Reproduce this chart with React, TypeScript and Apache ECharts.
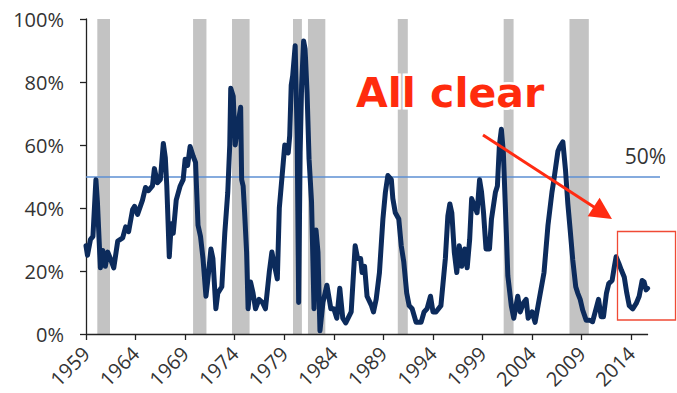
import React, { useEffect, useRef } from "react";
import * as echarts from "echarts";

// Share of indicator readings signalling recession risk, 1959–2015
const years: number[] = [
  1959.0, 1959.15, 1959.45, 1959.7, 1960.0, 1960.15, 1960.45, 1960.7, 1960.95, 1961.2,
  1961.45, 1961.8, 1962.2, 1962.7, 1963.0, 1963.3, 1963.7, 1963.9, 1964.2, 1964.7,
  1965.0, 1965.3, 1965.7, 1965.9, 1966.2, 1966.5, 1966.8, 1967.0, 1967.15, 1967.4,
  1967.6, 1967.8, 1968.1, 1968.5, 1968.8, 1969.0, 1969.25, 1969.5, 1969.8, 1970.05,
  1970.3, 1970.55, 1970.8, 1971.1, 1971.3, 1971.6, 1971.8, 1972.1, 1972.3, 1972.7,
  1973.0, 1973.3, 1973.5, 1973.6, 1973.85, 1974.05, 1974.25, 1974.6, 1974.7, 1974.85,
  1975.0, 1975.2, 1975.35, 1975.6, 1975.85, 1976.1, 1976.45, 1976.8, 1977.1, 1977.5,
  1977.75, 1978.0, 1978.3, 1978.5, 1978.9, 1979.05, 1979.4, 1979.55, 1979.7, 1979.85,
  1980.1, 1980.3, 1980.45, 1980.6, 1980.75, 1980.95, 1981.1, 1981.3, 1981.5, 1981.75,
  1982.0, 1982.2, 1982.4, 1982.6, 1982.9, 1983.3, 1983.7, 1984.0, 1984.3, 1984.6,
  1984.9, 1985.2, 1985.75, 1986.15, 1986.4, 1986.7, 1986.85, 1987.1, 1987.35, 1987.8,
  1988.0, 1988.27, 1988.6, 1988.95, 1989.2, 1989.45, 1989.8, 1989.95, 1990.2, 1990.55,
  1990.8, 1991.05, 1991.35, 1991.6, 1991.9, 1992.3, 1992.8, 1993.1, 1993.4, 1993.75,
  1994.0, 1994.3, 1994.8, 1995.25, 1995.5, 1995.7, 1995.9, 1996.15, 1996.4, 1996.65,
  1996.9, 1997.2, 1997.45, 1997.7, 1997.9, 1998.2, 1998.45, 1998.7, 1998.9, 1999.1,
  1999.35, 1999.7, 1999.9, 2000.3, 2000.5, 2000.7, 2000.9, 2001.1, 2001.4, 2001.55,
  2001.9, 2002.15, 2002.55, 2002.8, 2003.15, 2003.4, 2003.6, 2004.0, 2004.3, 2004.6,
  2005.2, 2005.6, 2006.0, 2006.2, 2006.6, 2006.8, 2007.1, 2007.37, 2007.6, 2007.84,
  2008.1, 2008.4, 2008.6, 2008.85, 2009.1, 2009.45, 2009.8, 2010.1, 2010.5, 2010.7,
  2010.96, 2011.2, 2011.5, 2011.73, 2012.07, 2012.3, 2012.47, 2012.74, 2013.0, 2013.3,
  2013.55, 2013.8, 2014.15, 2014.5, 2014.8, 2015.1, 2015.3, 2015.5, 2015.65,
];

const shares: number[] = [
  28, 25, 30, 31, 49, 42, 21, 26.5, 21.5, 26,
  24, 21, 29.5, 30.5, 34, 32.5, 39.5, 40.5, 38, 42.5,
  46.5, 45.5, 47, 52.5, 48, 49, 60.5, 56, 47, 24.5,
  35, 32, 42.5, 47, 49, 55.5, 53.5, 59.5, 56.5, 54.5,
  34.5, 31, 24, 12, 17.5, 27, 24, 8, 13, 15,
  32, 45, 60, 78, 75.5, 60, 65, 72, 49, 47,
  38.5, 26, 8, 16.5, 13, 8, 11, 10, 8, 20,
  26, 22, 17.5, 40, 54.5, 60, 57.5, 63, 79, 82,
  91.5, 63, 10, 57.5, 79, 93, 90.5, 76.5, 55.5, 42,
  8, 33, 26, 1, 10, 15.5, 8, 8, 5, 14.5,
  5, 3.5, 7, 28, 24, 24, 19.5, 21.5, 12, 9,
  7, 11, 19.5, 36.5, 45, 50.3, 49, 43, 38.5, 36.5,
  28, 23, 13, 9, 8, 3.7, 3.7, 7, 8, 12,
  7, 7, 9, 24, 37.5, 41.3, 38.5, 26, 19.5, 28,
  21.5, 27, 21, 30, 43, 40.5, 38.5, 49, 45, 38.5,
  27, 27, 36.5, 45, 47, 60, 65, 57.5, 32, 18.5,
  9, 5, 12, 7, 10, 11, 5, 7, 3.7, 9,
  19.5, 34.5, 45, 49, 58, 59.5, 61, 52, 41.5, 33,
  23.5, 15, 13, 11, 7.6, 4.4, 4.4, 3.9, 8.6, 11,
  5.5, 5.5, 13, 16, 17, 21.5, 24.5, 22.5, 20.3, 18,
  13, 9, 8, 9.7, 12, 17, 16.5, 14, 14.5,
];

// Recession periods (start, end) in decimal years
const recessionStarts: number[] = [1960.14, 1969.8, 1973.73, 1979.88, 1981.39, 1990.45, 2001.13, 2007.77];
const recessionEnds: number[] = [1961.42, 1971.15, 1975.5, 1980.78, 1983.14, 1991.46, 2002.13, 2009.72];

const tickYears: number[] = [1959, 1964, 1969, 1974, 1979, 1984, 1989, 1994, 1999, 2004, 2009, 2014];
const yTicks: number[] = [0, 20, 40, 60, 80, 100];
const threshold = 50;

const baseYear = 1959;
const lastYear = 2015.7; // end of the drawn time axis
const plotEndYear = 2016.9; // the threshold line runs slightly past the axis

const FONT = "'Open Sans', 'DejaVu Sans', sans-serif";

export default function App() {
  const ref = useRef<HTMLDivElement>(null);

  useEffect(() => {
    if (!ref.current) return;
    const chart = echarts.init(ref.current, undefined, { renderer: "svg" });

    const lineData = years.map((y, i) => [y - baseYear, shares[i]]);
    const areas = recessionStarts.map((s, i) => [
      { xAxis: s - baseYear },
      { xAxis: recessionEnds[i] - baseYear },
    ]);

    chart.setOption({
      animation: false,
      backgroundColor: "#ffffff",
      grid: {
        left: 86,
        right: 17,
        top: 19,
        bottom: 59,
        containLabel: false,
        outerBoundsMode: "none",
      },
      xAxis: {
        type: "value",
        min: 0,
        max: plotEndYear - baseYear,
        splitLine: { show: false },
        axisLine: { show: false },
        axisTick: {
          show: true,
          length: 6,
          customValues: tickYears.map((t) => t - baseYear),
          lineStyle: { color: "#222", width: 1.3 },
        },
        axisLabel: {
          show: true,
          customValues: tickYears.map((t) => t - baseYear),
          rotate: 45,
          margin: 16,
          fontSize: 20,
          lineHeight: 20,
          fontFamily: FONT,
          color: "#333",
          formatter: (v: number) => String(Math.round(v + baseYear)),
        },
      },
      yAxis: {
        type: "value",
        min: yTicks[0],
        max: yTicks[yTicks.length - 1],
        interval: 20,
        splitLine: { show: false },
        axisLine: { show: true, lineStyle: { color: "#222", width: 1.3 } },
        axisTick: { show: true, length: 6, lineStyle: { color: "#222", width: 1.3 } },
        axisLabel: {
          margin: 22,
          fontSize: 20,
          fontFamily: FONT,
          color: "#333",
          formatter: "{value}%",
        },
      },
      series: [
        {
          type: "line",
          name: "guides",
          data: [],
          z: 1,
          silent: true,
          markArea: {
            silent: true,
            z: 1,
            itemStyle: { color: "#c3c3c3" },
            data: areas,
          },
          markLine: {
            silent: true,
            z: 2,
            symbol: ["none", "none"],
            data: [
              {
                yAxis: threshold,
                lineStyle: { color: "#5d8fd3", width: 1.5, type: "solid" },
                label: {
                  show: true,
                  position: "insideEndTop",
                  formatter: `${threshold}%`,
                  fontSize: 21,
                  fontFamily: FONT,
                  color: "#333",
                  distance: [-6, 10],
                },
              },
              [
                {
                  coord: [0, 0],
                  lineStyle: { color: "#222", width: 1.3, type: "solid" },
                  label: { show: false },
                },
                { coord: [lastYear - baseYear, 0] },
              ],
            ],
          },
        },
        {
          type: "line",
          name: "share",
          z: 3,
          data: lineData,
          showSymbol: false,
          symbol: "none",
          clip: false,
          lineStyle: { color: "#0c2b5c", width: 5, join: "round", cap: "round" },
        },
      ],
      graphic: [
        {
          type: "line",
          silent: true,
          shape: { x1: 483, y1: 135, x2: 597, y2: 209 },
          style: { stroke: "#ff2b12", lineWidth: 3 },
          z: 10,
        },
        {
          type: "polygon",
          silent: true,
          shape: { points: [[612, 219], [587.6, 216.2], [599.6, 197.8]] },
          style: { fill: "#ff2b12" },
          z: 10,
        },
        {
          type: "rect",
          silent: true,
          shape: { x: 617.5, y: 231.5, width: 58, height: 88.5 },
          style: { fill: "none", stroke: "#f04a35", lineWidth: 1.3 },
          z: 10,
        },
        {
          type: "text",
          silent: true,
          x: 356,
          y: 93,
          z: 10,
          style: {
            text: "All clear",
            fontSize: 41,
            fontWeight: "bold",
            fontFamily: "'DejaVu Sans', sans-serif",
            fill: "#ff2b0d",
            stroke: "#ffffff",
            lineWidth: 5,
            align: "left",
            verticalAlign: "middle",
            shadowColor: "rgba(0,0,0,0.25)",
            shadowBlur: 4,
          },
        },
      ],
    });

    return () => chart.dispose();
  }, []);

  return (
    <div
      ref={ref}
      style={{ position: "absolute", left: 0, top: 0, width: 677, height: 393, background: "#fff" }}
    />
  );
}
